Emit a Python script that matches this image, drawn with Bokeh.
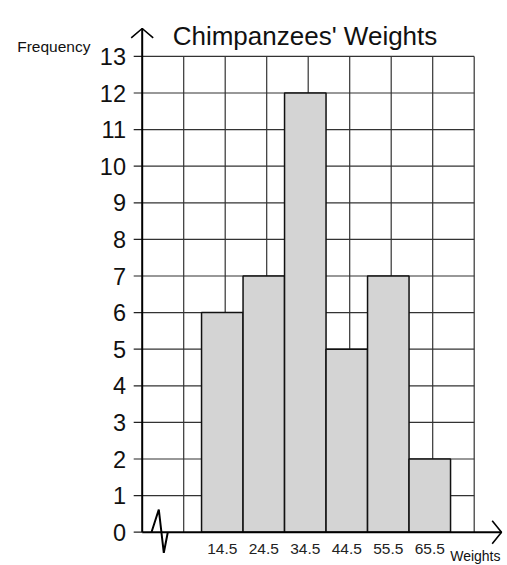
import numpy as np
from bokeh.plotting import figure
from bokeh.models import Range1d
from bokeh.core.properties import value
from bokeh.embed import file_html
from bokeh.resources import INLINE

# ---- data ----
title = "Chimpanzees' Weights"
categories = ["14.5", "24.5", "34.5", "44.5", "55.5", "65.5"]
frequencies = [6, 7, 12, 5, 7, 2]
y_ticks = list(range(0, 14))
grid_columns = 8
y_label = "Frequency"
x_label = "Weights"

# ---- layout (canvas pixels -> data) ----
W, H = 507, 565
PX_X, PX_Y = 41.5, 36.6          # pixels per unit
AX_X, AX_Y = 141.7, 531.7        # canvas position of origin
x0 = -AX_X / PX_X
x1 = x0 + W / PX_X
y1 = AX_Y / PX_Y
y0 = y1 - H / PX_Y


def dx(px):
    return (px - AX_X) / PX_X


def dy(py):
    return (AX_Y - py) / PX_Y


FONT = value("Liberation Sans")

p = figure(width=W, height=H, x_range=Range1d(x0, x1), y_range=Range1d(y0, y1),
           x_axis_type=None, y_axis_type=None, toolbar_location=None,
           output_backend="svg", min_border=0, outline_line_color=None)
p.grid.visible = False

ymax = y_ticks[-1]
tick_len = 8.5 / PX_X

# grid
gx = np.arange(1, grid_columns + 1)
p.segment(x0=gx, y0=0, x1=gx, y1=ymax, line_color="#333333", line_width=1.2)
gy = np.array(y_ticks[1:])
p.segment(x0=0, y0=gy, x1=grid_columns, y1=gy, line_color="#333333", line_width=1.2)
# y ticks
ty = np.array(y_ticks)
p.segment(x0=-tick_len, y0=ty, x1=0, y1=ty, line_color="#222222", line_width=1.2)

# bars
first_left = 1.43
idx = np.arange(len(frequencies))
lefts = first_left + idx
p.quad(left=lefts, right=lefts + 1, bottom=0, top=frequencies,
       fill_color="#d4d4d4", line_color="#111111", line_width=1.5)

# axes with arrows
ytip = dy(28)
xtip = dx(501)
p.line([0, 0], [0, ytip], line_color="black", line_width=2)
hx, hy = 11 / PX_X, 9.3 / PX_Y
p.line([-hx, 0, hx], [ytip - hy, ytip, ytip - hy], line_color="black", line_width=1.6)
p.line([0, xtip], [0, 0], line_color="black", line_width=2)
ax_, ay_ = 9.3 / PX_X, 11.5 / PX_Y
p.line([xtip - ax_, xtip, xtip - ax_], [ay_, 0, -ay_], line_color="black", line_width=1.6)

# axis break zigzag
p.line([dx(151), dx(158.3), dx(163.3), dx(167.3)], [0, dy(509), dy(552.3), 0],
       line_color="black", line_width=2)

# y tick labels
p.text(x=dx(125.5), y=ty, text=[str(t) for t in y_ticks], text_font=FONT,
       text_font_size=value("23.5px"), text_align="right", text_baseline="middle",
       text_color="#111111")

# x tick labels
p.text(x=lefts + 0.5, y=dy(548.5), text=categories, text_font=FONT,
       text_font_size=value("15.5px"), text_align="center", text_baseline="alphabetic",
       text_color="#222222")

# title and axis names
p.text(x=[dx(304.5)], y=[dy(35)], text=[title], text_font=FONT,
       text_font_size=value("26px"), text_align="center", text_baseline="alphabetic",
       text_color="#111111")
p.text(x=[dx(16.7)], y=[dy(46)], text=[y_label], text_font=FONT,
       text_font_size=value("15.5px"), text_align="left", text_baseline="alphabetic",
       text_color="#111111")
p.text(x=[dx(500)], y=[dy(555)], text=[x_label], text_font=FONT,
       text_font_size=value("14px"), text_align="right", text_baseline="alphabetic",
       text_color="#111111")

open("out.html", "w").write(file_html(p, INLINE))
